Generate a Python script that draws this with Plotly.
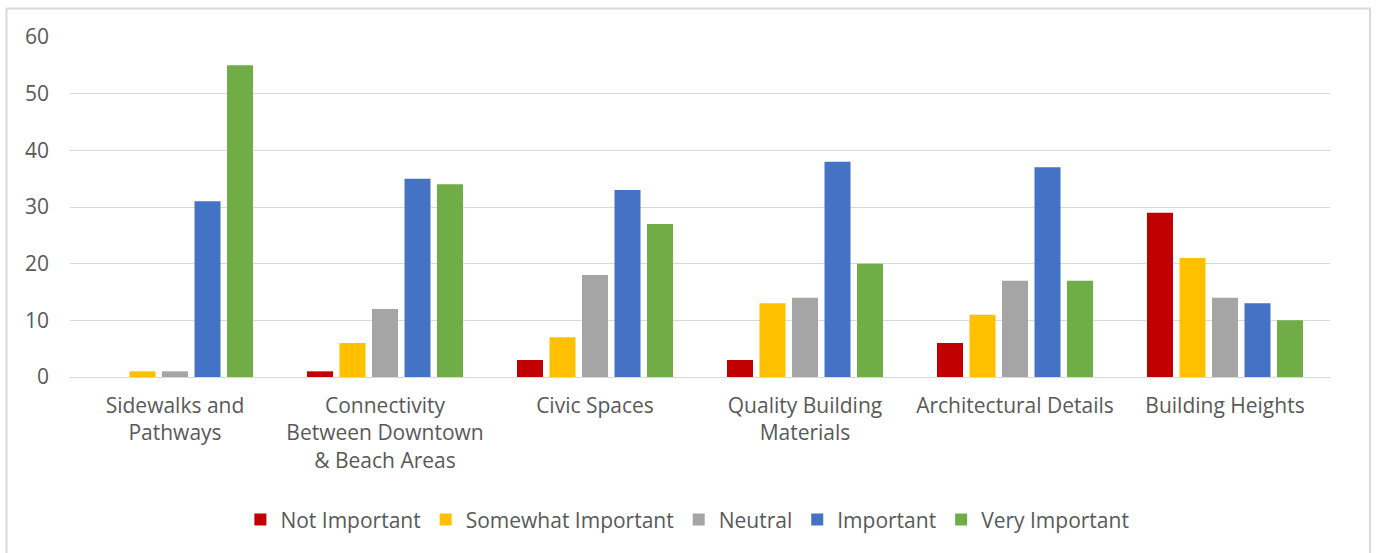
import plotly.graph_objects as go

categories = ["Sidewalks and<br>Pathways", "Connectivity<br>Between Downtown<br>& Beach Areas",
              "Civic Spaces", "Quality Building<br>Materials", "Architectural Details", "Building Heights"]
series_names = ["Not Important", "Somewhat Important", "Neutral", "Important", "Very Important"]
not_important = [0, 1, 3, 3, 6, 29]
somewhat_important = [1, 6, 7, 13, 11, 21]
neutral = [1, 12, 18, 14, 17, 14]
important = [31, 35, 33, 38, 37, 13]
very_important = [55, 34, 27, 20, 17, 10]
colors = ["#C00000", "#FFC000", "#A5A5A5", "#4472C4", "#70AD47"]
y_ticks = [0, 10, 20, 30, 40, 50, 60]

FONT = "Open Sans"
TXT = "#595959"
fig = go.Figure()
for name, vals, c in zip(series_names,
                         [not_important, somewhat_important, neutral, important, very_important],
                         colors):
    fig.add_trace(go.Bar(name=name, x=categories, y=vals, marker_color=c, marker_line_width=0))

fig.update_layout(
    width=1377, height=553,
    margin=dict(l=70, r=47, t=37, b=176),
    paper_bgcolor="white", plot_bgcolor="white",
    barmode="group", bargap=0.226, bargroupgap=0.2,
    font=dict(family=FONT, size=21, color=TXT),
    showlegend=True,
    legend=dict(orientation="h", x=0.490, xanchor="center", y=-0.42, yanchor="middle",
                font=dict(size=21, color=TXT), itemwidth=30, tracegroupgap=0),
    xaxis=dict(showgrid=False, showline=False, ticks="", tickfont=dict(size=21, color=TXT),
               ticklabelstandoff=14),
    yaxis=dict(range=[0, 60], tickvals=y_ticks, showgrid=True, gridcolor="#D9D9D9", gridwidth=1,
               zeroline=True, zerolinecolor="#D9D9D9", zerolinewidth=1,
               tickfont=dict(size=21, color=TXT), ticks="", ticklabelstandoff=20),
)
# outer chart frame (light gray border around the chart area)
fig.add_shape(type="rect", xref="paper", yref="paper",
              x0=(6.5 - 70) / 1260, x1=(1370 - 70) / 1260,
              y0=(377 - 560) / 340, y1=(377 - 8.5) / 340,
              line=dict(color="#D9D9D9", width=2), fillcolor="rgba(0,0,0,0)", layer="below")
fig.write_html("out.html", config={"displayModeBar": False},
               post_script="document.body.style.margin='0px';")
